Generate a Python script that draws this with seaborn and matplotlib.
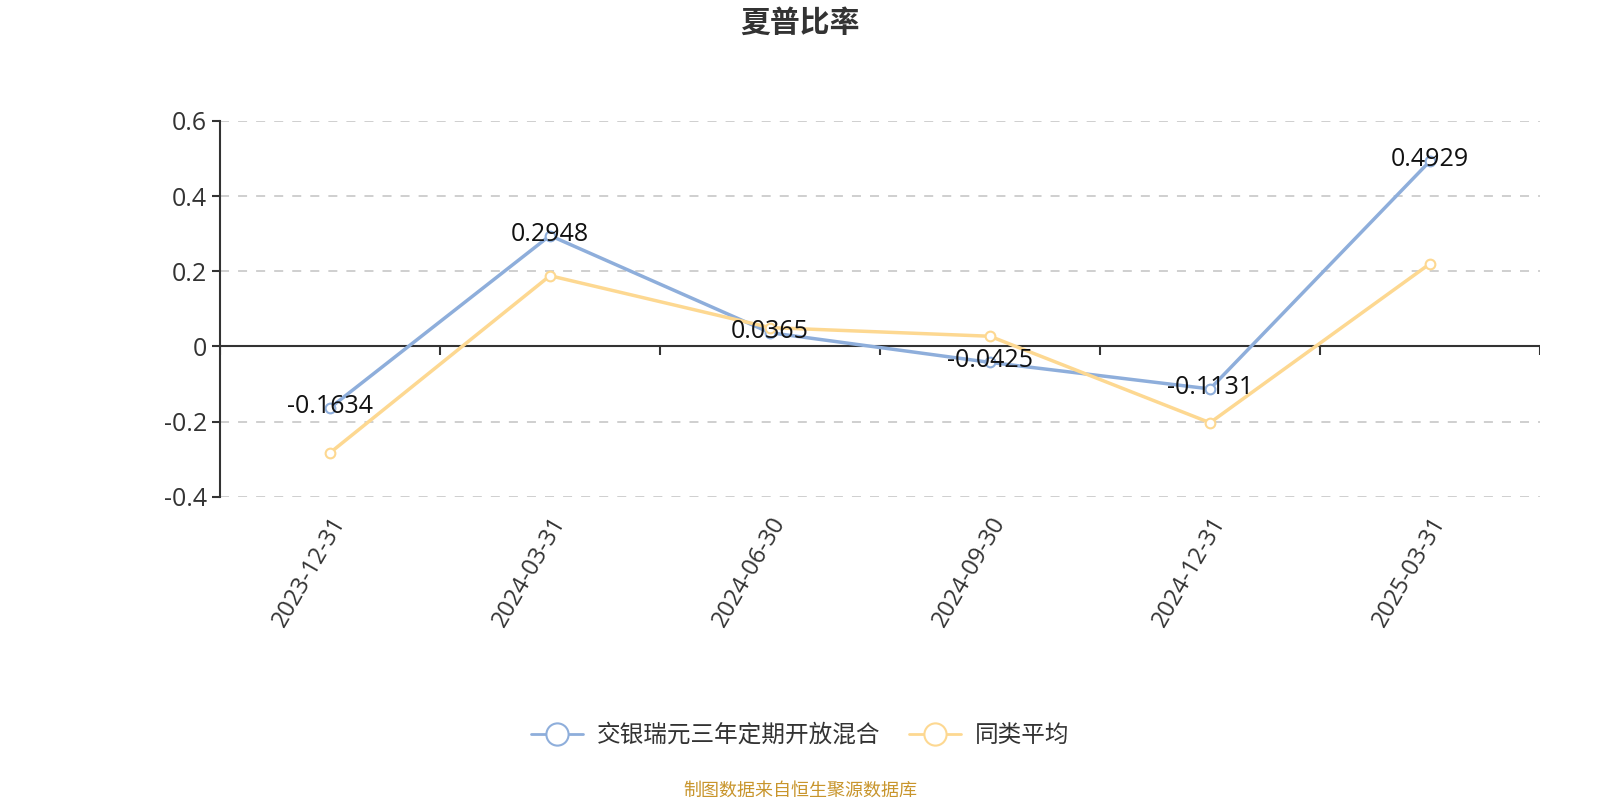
import numpy as np
import pandas as pd
import seaborn as sns
import matplotlib.pyplot as plt
from matplotlib.lines import Line2D

# Data
dates = ["2023-12-31", "2024-03-31", "2024-06-30", "2024-09-30", "2024-12-31", "2025-03-31"]
fund_name = "交银瑞元三年定期开放混合"
avg_name = "同类平均"
fund_values = [-0.1634, 0.2948, 0.0365, -0.0425, -0.1131, 0.4929]
avg_values = [-0.283, 0.188, 0.050, 0.027, -0.203, 0.220]
yticks = [-0.4, -0.2, 0, 0.2, 0.4, 0.6]

blue = "#8eaedb"
yellow = "#fdd891"

df = pd.concat([
    pd.DataFrame({"date": dates, "value": fund_values, "series": fund_name}),
    pd.DataFrame({"date": dates, "value": avg_values, "series": avg_name}),
])
df["pos"] = df["date"].map({d: i for i, d in enumerate(dates)})

sns.set_style("white")
plt.rcParams["font.family"] = ["Open Sans", "Noto Sans CJK SC", "DejaVu Sans"]
plt.rcParams["axes.unicode_minus"] = False

fig = plt.figure(figsize=(16, 8), dpi=100)
ax = fig.add_axes([0.1375, 0.379, 0.825, 0.470])

sns.lineplot(data=df, x="pos", y="value", hue="series", palette=[blue, yellow],
             marker="o", markersize=7, markerfacecolor="white", markeredgewidth=1.5,
             linewidth=2.5, ax=ax, legend=False, sort=False)
# make marker edges match the line colours
for line, c in zip(ax.get_lines(), [blue, yellow]):
    line.set_markeredgecolor(c)
    line.set_markerfacecolor("white")

ax.set_xlim(-0.5, len(dates) - 0.5)
ax.set_ylim(-0.4, 0.6)
ax.set_yticks(yticks)
ax.set_yticklabels(["0" if v == 0 else f"{v:g}" for v in yticks], fontsize=18, color="#333333")
ax.yaxis.grid(True, linestyle=(0, (5, 5)), color="#cccccc", linewidth=1.3)
ax.set_axisbelow(True)

ax.set_xticks(range(len(dates)))
ax.set_xticklabels(dates, rotation=60, ha="right", rotation_mode="anchor",
                   fontsize=17, color="#333333")
ax.tick_params(axis="x", length=0, pad=11)
ax.tick_params(axis="y", length=6, width=1.5, color="#333333", direction="out", left=True)

for s in ["top", "right", "bottom"]:
    ax.spines[s].set_visible(False)
ax.spines["left"].set_color("#333333")
ax.spines["left"].set_linewidth(1.5)

# zero axis line with category boundary ticks
ax.axhline(0, color="#333333", linewidth=1.5, zorder=1)
ax.vlines(np.arange(len(dates) + 1) - 0.5, -0.022, 0, color="#333333", linewidth=1.5, zorder=1)

ax.set_xlabel("")
ax.set_ylabel("")

# value labels for the fund series
for i, v in enumerate(fund_values):
    ax.annotate(f"{v:.4f}", (i, v), xytext=(0, 1), textcoords="offset points",
                ha="center", va="center", fontsize=18, color="#111111", zorder=5)

fig.text(0.5, 0.972, "夏普比率", ha="center", va="center", fontsize=21.5,
         fontweight="bold", color="#333333", family=["Noto Sans CJK SC", "DejaVu Sans"])

handles = [
    Line2D([0], [0], color=blue, linewidth=2, marker="o", markersize=16,
           markerfacecolor="white", markeredgecolor=blue, markeredgewidth=1.5),
    Line2D([0], [0], color=yellow, linewidth=2, marker="o", markersize=16,
           markerfacecolor="white", markeredgecolor=yellow, markeredgewidth=1.5),
]
fig.legend(handles, [fund_name, avg_name], loc="center", bbox_to_anchor=(0.5, 0.08),
           ncol=2, frameon=False, fontsize=17, handlelength=2.2, columnspacing=1.2,
           handletextpad=0.6, labelcolor="#333333")

fig.text(0.5, 0.012, "制图数据来自恒生聚源数据库", ha="center", va="center",
         fontsize=13, color="#c8952c", family=["Noto Sans CJK SC", "DejaVu Sans"])

fig.savefig("out.png", dpi=100)
